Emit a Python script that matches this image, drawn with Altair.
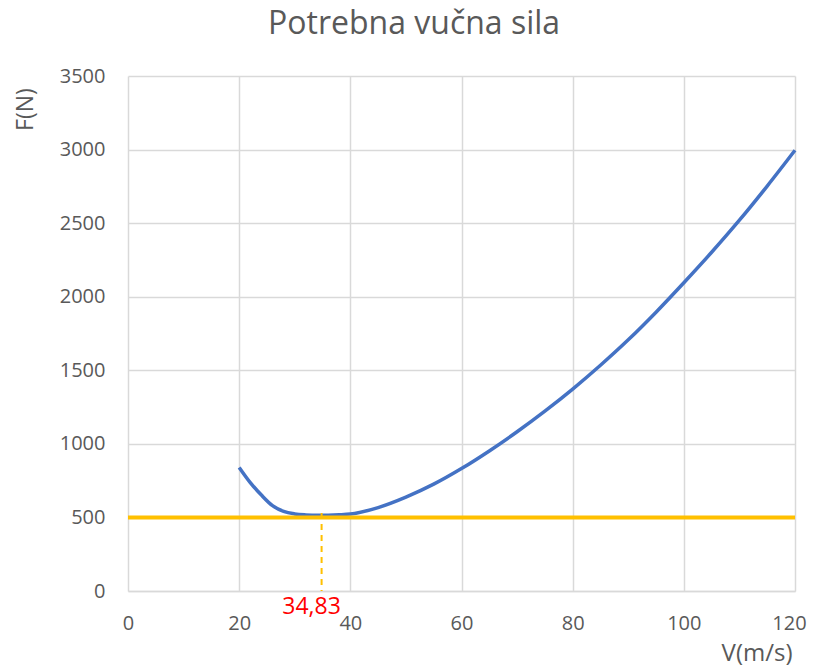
import altair as alt
import pandas as pd

# Data
speed = [20, 22, 24, 26, 28, 30, 32, 34, 36, 38, 40, 45, 50, 55, 60, 65, 70,
         75, 80, 85, 90, 95, 100, 105, 110, 115, 120]
force = [840, 737, 652, 580, 541, 524, 517, 514, 515, 518, 523, 567, 638, 726,
         832, 952, 1082, 1222, 1372, 1534, 1707, 1895, 2095, 2302, 2520, 2752, 2995]

limit_x = [0, 120]
limit_y = [500, 500]

min_speed = [34.83]
min_force = [530]
min_label = ["34,83"]

FONT = "Open Sans"
GREY = "#595959"

curve_df = pd.DataFrame({"V": speed, "F": force})
limit_df = pd.DataFrame({"V": limit_x, "F": limit_y})
min_df = pd.DataFrame({"V": min_speed, "F": min_force, "label": min_label})

xscale = alt.Scale(domain=[0, 120], nice=False, zero=False)
yscale = alt.Scale(domain=[0, 3500], nice=False)

xaxis = alt.Axis(values=[0, 20, 40, 60, 80, 100, 120], title="V(m/s)", format="d",
                 grid=True, gridColor="#D9D9D9", gridWidth=1.5,
                 domain=True, domainColor="#D9D9D9", domainWidth=1.5,
                 ticks=False, tickSize=0, labelPadding=22, labelFlush=False,
                 labelOffset={"condition": {"test": "datum.value >= 120", "value": -6},
                              "value": 0},
                 labelFont=FONT, labelFontSize=20, labelColor=GREY,
                 titleFont=FONT, titleFontSize=24, titleColor=GREY,
                 titleFontWeight="normal", titleAlign="right",
                 titleX=664, titleY=69, titleBaseline="alphabetic")
yaxis = alt.Axis(values=[0, 500, 1000, 1500, 2000, 2500, 3000, 3500], title="F(N)",
                 format="d",
                 grid=True, gridColor="#D9D9D9", gridWidth=1.5,
                 domain=False, ticks=False, tickSize=0, labelPadding=23,
                 labelFont=FONT, labelFontSize=20, labelColor=GREY,
                 titleFont=FONT, titleFontSize=23, titleColor=GREY,
                 titleFontWeight="normal", titleAngle=270, titleAlign="center",
                 titleBaseline="middle", titleX=-103, titleY=33)

curve = alt.Chart(curve_df).mark_line(color="#4472C4", strokeWidth=3.5,
                                      interpolate="monotone").encode(
    x=alt.X("V:Q", scale=xscale, axis=xaxis),
    y=alt.Y("F:Q", scale=yscale, axis=yaxis),
)

limit = alt.Chart(limit_df).mark_line(color="#FFC000", strokeWidth=4).encode(
    x=alt.X("V:Q", scale=xscale),
    y=alt.Y("F:Q", scale=yscale),
)

drop = alt.Chart(min_df).mark_rule(color="#FFC000", strokeWidth=2,
                                   strokeDash=[6, 5]).encode(
    x=alt.X("V:Q", scale=xscale),
    y=alt.Y("F:Q", scale=yscale),
    y2=alt.datum(0),
)

label = alt.Chart(min_df).mark_text(color="#FF0000", font=FONT, fontSize=23,
                                    baseline="middle", align="center",
                                    dx=-10, dy=16).encode(
    x=alt.X("V:Q", scale=xscale),
    y=alt.value(515),
    text="label:N",
)

chart = alt.layer(curve, limit, drop, label).properties(
    width=667,
    height=515,
    padding={"left": 120, "top": 68, "right": 14, "bottom": 77},
    autosize=alt.AutoSizeParams(type="none"),
    title=alt.TitleParams("Potrebna vučna sila", font=FONT, fontSize=32,
                          fontWeight="normal", color=GREY, anchor="middle",
                          frame="bounds", baseline="alphabetic", offset=0, dx=4),
).configure_view(stroke=None)

chart.save("out.html", embed_options={"renderer": "svg", "actions": False})
